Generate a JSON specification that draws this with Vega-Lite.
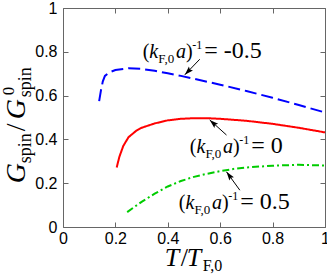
{
  "$schema": "https://vega.github.io/schema/vega-lite/v6.json",
  "width": 262,
  "height": 219,
  "autosize": {"type": "none"},
  "padding": {"left": 63, "top": 8, "right": 2, "bottom": 47},
  "background": "white",
  "config": {
    "view": {"stroke": "#666", "strokeWidth": 1},
    "axis": {
      "grid": false, "domain": false, "title": null,
      "labelFont": "Liberation Sans", "labelFontSize": 16, "labelColor": "black",
      "tickColor": "#666", "tickSize": -5,
      "values": [0, 0.2, 0.4, 0.6, 0.8, 1],
      "labelFlush": false, "labelOverlap": false, "format": "~g"
    }
  },
  "datasets": {
    "curves": [
      {"x": 0.138, "y": 0.575, "s": "neg"}, {"x": 0.145, "y": 0.625, "s": "neg"}, {"x": 0.152, "y": 0.665, "s": "neg"},
      {"x": 0.16, "y": 0.69, "s": "neg"}, {"x": 0.175, "y": 0.705, "s": "neg"}, {"x": 0.2, "y": 0.717, "s": "neg"},
      {"x": 0.25, "y": 0.725, "s": "neg"}, {"x": 0.3, "y": 0.722, "s": "neg"}, {"x": 0.35, "y": 0.713, "s": "neg"},
      {"x": 0.4, "y": 0.702, "s": "neg"}, {"x": 0.45, "y": 0.69, "s": "neg"}, {"x": 0.5, "y": 0.677, "s": "neg"},
      {"x": 0.6, "y": 0.65, "s": "neg"}, {"x": 0.7, "y": 0.621, "s": "neg"}, {"x": 0.8, "y": 0.59, "s": "neg"},
      {"x": 0.9, "y": 0.557, "s": "neg"}, {"x": 1.0, "y": 0.523, "s": "neg"},
      {"x": 0.205, "y": 0.272, "s": "zero"}, {"x": 0.215, "y": 0.32, "s": "zero"}, {"x": 0.23, "y": 0.37, "s": "zero"},
      {"x": 0.25, "y": 0.41, "s": "zero"}, {"x": 0.28, "y": 0.44, "s": "zero"}, {"x": 0.3, "y": 0.453, "s": "zero"},
      {"x": 0.35, "y": 0.473, "s": "zero"}, {"x": 0.4, "y": 0.487, "s": "zero"}, {"x": 0.45, "y": 0.494, "s": "zero"},
      {"x": 0.5, "y": 0.497, "s": "zero"}, {"x": 0.55, "y": 0.497, "s": "zero"}, {"x": 0.6, "y": 0.494, "s": "zero"},
      {"x": 0.7, "y": 0.485, "s": "zero"}, {"x": 0.8, "y": 0.471, "s": "zero"}, {"x": 0.9, "y": 0.453, "s": "zero"},
      {"x": 1.0, "y": 0.432, "s": "zero"},
      {"x": 0.245, "y": 0.068, "s": "pos"}, {"x": 0.3, "y": 0.115, "s": "pos"}, {"x": 0.35, "y": 0.152, "s": "pos"},
      {"x": 0.4, "y": 0.185, "s": "pos"}, {"x": 0.45, "y": 0.21, "s": "pos"}, {"x": 0.5, "y": 0.229, "s": "pos"},
      {"x": 0.55, "y": 0.243, "s": "pos"}, {"x": 0.6, "y": 0.255, "s": "pos"}, {"x": 0.65, "y": 0.265, "s": "pos"},
      {"x": 0.7, "y": 0.272, "s": "pos"}, {"x": 0.8, "y": 0.28, "s": "pos"}, {"x": 0.9, "y": 0.284, "s": "pos"},
      {"x": 1.0, "y": 0.281, "s": "pos"}
    ],
    "labels": [
      {"lx": 0.304, "ly": 0.771, "val": "= -0.5"},
      {"lx": 0.484, "ly": 0.337, "val": "= 0"},
      {"lx": 0.442, "ly": 0.081, "val": "= 0.5"}
    ],
    "arrows": [
      {"x1": 0.522, "y1": 0.766, "x2": 0.465, "y2": 0.695, "ang": 224},
      {"x1": 0.624, "y1": 0.42, "x2": 0.56, "y2": 0.489, "ang": 312},
      {"x1": 0.675, "y1": 0.168, "x2": 0.624, "y2": 0.252, "ang": 324}
    ],
    "one": [{"k": 1}]
  },
  "layer": [
    {
      "data": {"name": "curves"},
      "mark": {"type": "line", "strokeWidth": 2},
      "encoding": {
        "x": {"field": "x", "type": "quantitative", "scale": {"domain": [0, 1], "nice": false}, "axis": {"orient": "bottom", "labelPadding": 8}},
        "y": {"field": "y", "type": "quantitative", "scale": {"domain": [0, 1], "nice": false}, "axis": {"orient": "left", "labelPadding": 11}},
        "color": {"field": "s", "type": "nominal", "scale": {"domain": ["neg", "zero", "pos"], "range": ["#0000ff", "#ff0000", "#00cc00"]}, "legend": null},
        "strokeDash": {"field": "s", "type": "nominal", "scale": {"domain": ["neg", "zero", "pos"], "range": [[12, 5], [1, 0], [7, 3, 2, 3]]}, "legend": null}
      }
    },
    {
      "data": {"name": "curves"},
      "mark": {"type": "point", "opacity": 0},
      "encoding": {
        "x": {"field": "x", "type": "quantitative", "axis": {"orient": "top", "labels": false}},
        "y": {"field": "y", "type": "quantitative", "axis": {"orient": "right", "labels": false}}
      }
    },
    {
      "data": {"name": "arrows"},
      "mark": {"type": "rule", "color": "black", "strokeWidth": 1},
      "encoding": {
        "x": {"field": "x1", "type": "quantitative", "axis": null},
        "y": {"field": "y1", "type": "quantitative", "axis": null},
        "x2": {"field": "x2"},
        "y2": {"field": "y2"}
      }
    },
    {
      "data": {"name": "arrows"},
      "mark": {"type": "point", "shape": "M0,0L-0.7,2.2L0,1.8L0.7,2.2Z", "filled": true, "color": "black", "size": 64, "opacity": 1, "strokeWidth": 0},
      "encoding": {
        "x": {"field": "x2", "type": "quantitative", "axis": null},
        "y": {"field": "y2", "type": "quantitative", "axis": null},
        "angle": {"field": "ang", "type": "quantitative", "scale": null}
      }
    },
    {
      "data": {"name": "labels"},
      "mark": {"type": "text", "text": "(", "font": "Liberation Serif", "fontSize": 20, "align": "left", "baseline": "alphabetic", "dx": 0},
      "encoding": {"x": {"field": "lx", "type": "quantitative", "axis": null}, "y": {"field": "ly", "type": "quantitative", "axis": null}}
    },
    {
      "data": {"name": "labels"},
      "mark": {"type": "text", "text": "k", "font": "Liberation Serif", "fontStyle": "italic", "fontSize": 20, "align": "left", "baseline": "alphabetic", "dx": 6.7},
      "encoding": {"x": {"field": "lx", "type": "quantitative", "axis": null}, "y": {"field": "ly", "type": "quantitative", "axis": null}}
    },
    {
      "data": {"name": "labels"},
      "mark": {"type": "text", "text": "F,0", "font": "Liberation Serif", "fontSize": 13, "align": "left", "baseline": "alphabetic", "dx": 15.6, "dy": 5},
      "encoding": {"x": {"field": "lx", "type": "quantitative", "axis": null}, "y": {"field": "ly", "type": "quantitative", "axis": null}}
    },
    {
      "data": {"name": "labels"},
      "mark": {"type": "text", "text": "a", "font": "Liberation Serif", "fontStyle": "italic", "fontSize": 20, "align": "left", "baseline": "alphabetic", "dx": 33.3},
      "encoding": {"x": {"field": "lx", "type": "quantitative", "axis": null}, "y": {"field": "ly", "type": "quantitative", "axis": null}}
    },
    {
      "data": {"name": "labels"},
      "mark": {"type": "text", "text": ")", "font": "Liberation Serif", "fontSize": 20, "align": "left", "baseline": "alphabetic", "dx": 43.3},
      "encoding": {"x": {"field": "lx", "type": "quantitative", "axis": null}, "y": {"field": "ly", "type": "quantitative", "axis": null}}
    },
    {
      "data": {"name": "labels"},
      "mark": {"type": "text", "text": "-1", "font": "Liberation Serif", "fontSize": 12, "align": "left", "baseline": "alphabetic", "dx": 49.5, "dy": -9},
      "encoding": {"x": {"field": "lx", "type": "quantitative", "axis": null}, "y": {"field": "ly", "type": "quantitative", "axis": null}}
    },
    {
      "data": {"name": "labels"},
      "mark": {"type": "text", "font": "Liberation Serif", "fontSize": 24, "align": "left", "baseline": "alphabetic", "dx": 61.5},
      "encoding": {"x": {"field": "lx", "type": "quantitative", "axis": null}, "y": {"field": "ly", "type": "quantitative", "axis": null}, "text": {"field": "val"}}
    },
    {
      "data": {"name": "one"},
      "mark": {"type": "text", "text": "G", "font": "Liberation Serif", "fontStyle": "italic", "fontSize": 28, "align": "left", "baseline": "alphabetic", "angle": 270, "dx": 0},
      "encoding": {"x": {"datum": -0.144, "type": "quantitative", "axis": null}, "y": {"datum": 0.2, "type": "quantitative", "axis": null}}
    },
    {
      "data": {"name": "one"},
      "mark": {"type": "text", "text": "spin", "font": "Liberation Serif", "fontSize": 18, "align": "left", "baseline": "alphabetic", "angle": 270, "dx": 20, "dy": 6},
      "encoding": {"x": {"datum": -0.144, "type": "quantitative", "axis": null}, "y": {"datum": 0.2, "type": "quantitative", "axis": null}}
    },
    {
      "data": {"name": "one"},
      "mark": {"type": "text", "text": "/", "font": "Liberation Serif", "fontSize": 28, "align": "left", "baseline": "alphabetic", "angle": 270, "dx": 52},
      "encoding": {"x": {"datum": -0.144, "type": "quantitative", "axis": null}, "y": {"datum": 0.2, "type": "quantitative", "axis": null}}
    },
    {
      "data": {"name": "one"},
      "mark": {"type": "text", "text": "G", "font": "Liberation Serif", "fontStyle": "italic", "fontSize": 28, "align": "left", "baseline": "alphabetic", "angle": 270, "dx": 64},
      "encoding": {"x": {"datum": -0.144, "type": "quantitative", "axis": null}, "y": {"datum": 0.2, "type": "quantitative", "axis": null}}
    },
    {
      "data": {"name": "one"},
      "mark": {"type": "text", "text": "spin", "font": "Liberation Serif", "fontSize": 18, "align": "left", "baseline": "alphabetic", "angle": 270, "dx": 86, "dy": 6},
      "encoding": {"x": {"datum": -0.144, "type": "quantitative", "axis": null}, "y": {"datum": 0.2, "type": "quantitative", "axis": null}}
    },
    {
      "data": {"name": "one"},
      "mark": {"type": "text", "text": "0", "font": "Liberation Serif", "fontSize": 17, "align": "left", "baseline": "alphabetic", "angle": 270, "dx": 88, "dy": -11},
      "encoding": {"x": {"datum": -0.144, "type": "quantitative", "axis": null}, "y": {"datum": 0.2, "type": "quantitative", "axis": null}}
    },
    {
      "data": {"name": "one"},
      "mark": {"type": "text", "text": "T", "font": "Liberation Serif", "fontStyle": "italic", "fontSize": 26, "align": "left", "baseline": "alphabetic", "dx": 0},
      "encoding": {"x": {"datum": 0.388, "type": "quantitative", "axis": null}, "y": {"datum": -0.177, "type": "quantitative", "axis": null}}
    },
    {
      "data": {"name": "one"},
      "mark": {"type": "text", "text": "/", "font": "Liberation Serif", "fontSize": 26, "align": "left", "baseline": "alphabetic", "dx": 16},
      "encoding": {"x": {"datum": 0.388, "type": "quantitative", "axis": null}, "y": {"datum": -0.177, "type": "quantitative", "axis": null}}
    },
    {
      "data": {"name": "one"},
      "mark": {"type": "text", "text": "T", "font": "Liberation Serif", "fontStyle": "italic", "fontSize": 26, "align": "left", "baseline": "alphabetic", "dx": 22},
      "encoding": {"x": {"datum": 0.388, "type": "quantitative", "axis": null}, "y": {"datum": -0.177, "type": "quantitative", "axis": null}}
    },
    {
      "data": {"name": "one"},
      "mark": {"type": "text", "text": "F,0", "font": "Liberation Serif", "fontSize": 16, "align": "left", "baseline": "alphabetic", "dx": 38, "dy": 5},
      "encoding": {"x": {"datum": 0.388, "type": "quantitative", "axis": null}, "y": {"datum": -0.177, "type": "quantitative", "axis": null}}
    }
  ],
  "resolve": {"axis": {"x": "independent", "y": "independent"}}
}
